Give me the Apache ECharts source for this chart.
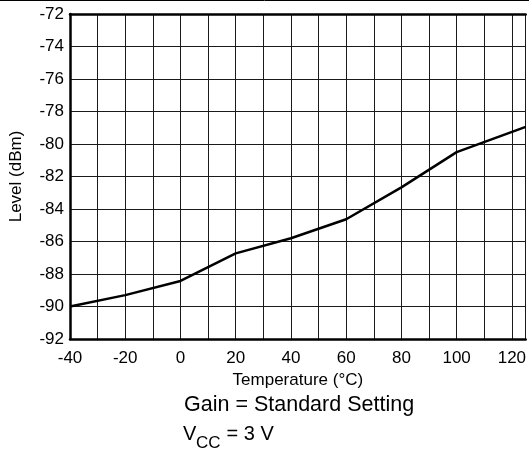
<!DOCTYPE html>
<html>
<head>
<meta charset="utf-8">
<script src="https://cdn.jsdelivr.net/npm/echarts@6/dist/echarts.min.js"></script>
<style>
html,body{margin:0;padding:0;background:#fff;}
#chart{width:529px;height:451px;}
</style>
</head>
<body>
<div id="chart"></div>
<script>
var temperatures = [-40, -20, 0, 20, 40, 60, 80, 100, 125];
var levels = [-90, -89.3, -88.43, -86.73, -85.8, -84.63, -82.67, -80.5, -78.95];
var xTickLabels = [-40, -20, 0, 20, 40, 60, 80, 100, 120];
var yTickLabels = [-92, -90, -88, -86, -84, -82, -80, -78, -76, -74, -72];

var FONT = 'Liberation Sans, Arial, sans-serif';
var chart = echarts.init(document.getElementById('chart'));
var points = temperatures.map(function (t, i) { return [t, levels[i]]; });

chart.setOption({
  animation: false,
  backgroundColor: '#fff',
  grid: { left: 68, top: 14, width: 462, height: 325, containLabel: false },
  xAxis: [{
    type: 'value',
    min: -40, max: 125, interval: 10,
    position: 'bottom',
    name: 'Temperature (\u00b0C)',
    nameLocation: 'middle',
    nameGap: 33,
    nameTextStyle: { fontFamily: FONT, fontSize: 17, color: '#000' },
    axisLine: { show: true, onZero: false, lineStyle: { color: '#000', width: 2.5 } },
    axisTick: { show: false },
    splitLine: { show: true, lineStyle: { color: '#1a1a1a', width: 1 } },
    axisLabel: {
      fontFamily: FONT, fontSize: 17, color: '#000', margin: 11,
      showMinLabel: true, showMaxLabel: true,
      formatter: function (v) { return xTickLabels.indexOf(v) >= 0 ? String(v) : ''; }
    }
  }, {
    type: 'value',
    min: -40, max: 125, interval: 10,
    position: 'top',
    axisLine: { show: true, onZero: false, lineStyle: { color: '#000', width: 2.5 } },
    axisTick: { show: false },
    axisLabel: { show: false },
    splitLine: { show: false }
  }],
  yAxis: {
    type: 'value',
    min: -92, max: -72, interval: 2,
    name: 'Level (dBm)',
    nameLocation: 'middle',
    nameGap: 45,
    nameTextStyle: { fontFamily: FONT, fontSize: 17, color: '#000' },
    axisLine: { show: true, onZero: false, lineStyle: { color: '#000', width: 2.5 } },
    axisTick: { show: false },
    splitLine: { show: true, lineStyle: { color: '#1a1a1a', width: 1 } },
    axisLabel: {
      fontFamily: FONT, fontSize: 17, color: '#000', margin: 6,
      formatter: function (v) { return yTickLabels.indexOf(v) >= 0 ? String(v) : ''; }
    }
  },
  series: [{
    type: 'line',
    data: points,
    symbol: 'none',
    lineStyle: { color: '#000', width: 2.5 },
    z: 5
  }],
  graphic: [
    { type: 'line', shape: { x1: 0, y1: 0.5, x2: 529, y2: 0.5 }, style: { stroke: '#000', lineWidth: 1 } },
    { type: 'text', left: 184, top: 394, style: { text: 'Gain = Standard Setting', fontFamily: FONT, fontSize: 21.5, fill: '#000' } },
    { type: 'text', left: 183, top: 424, style: { text: 'V', fontFamily: FONT, fontSize: 20, fill: '#000' } },
    { type: 'text', left: 196, top: 435, style: { text: 'CC', fontFamily: FONT, fontSize: 17, fill: '#000' } },
    { type: 'text', left: 221, top: 424, style: { text: ' = 3 V', fontFamily: FONT, fontSize: 20, fill: '#000' } }
  ]
});
</script>
</body>
</html>
